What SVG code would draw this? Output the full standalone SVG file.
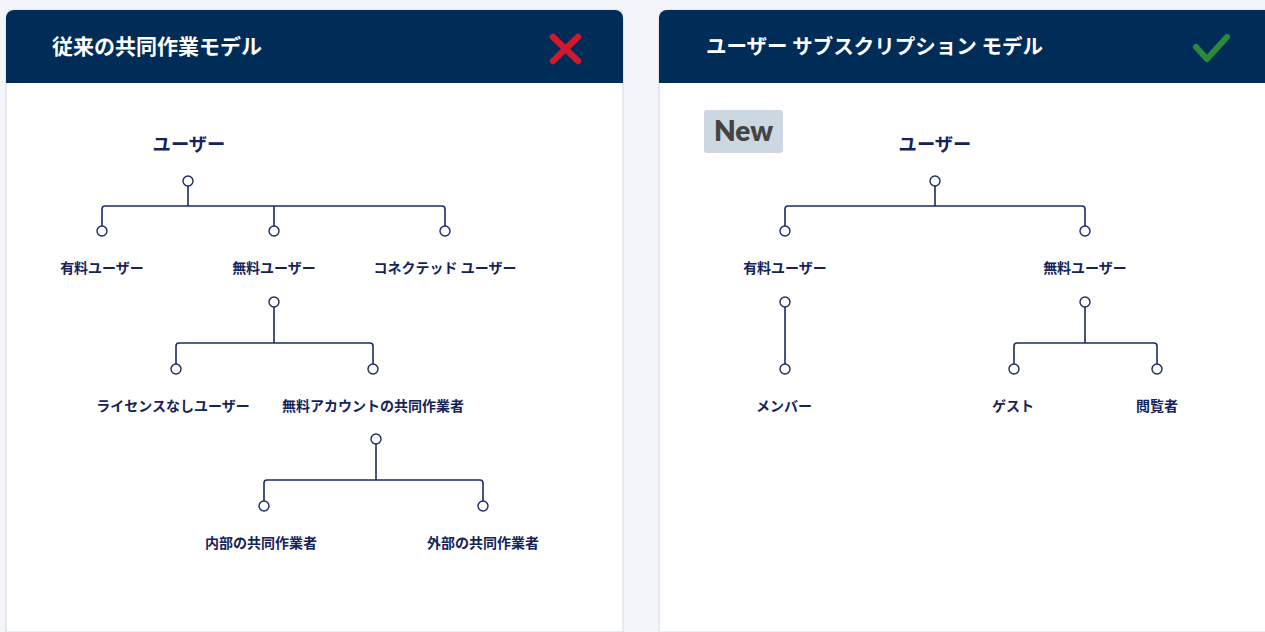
<svg xmlns="http://www.w3.org/2000/svg" width="1265" height="632" viewBox="0 0 1265 632">
<defs>
<style>
.title{font-family:"Noto Sans CJK JP","Noto Sans",sans-serif;font-size:21px;font-weight:700;fill:#ffffff}
.root{font-family:"Noto Sans CJK JP","Noto Sans",sans-serif;font-size:18.3px;font-weight:700;fill:#14245a;text-anchor:middle}
.lbl{font-family:"Noto Sans CJK JP","Noto Sans",sans-serif;font-size:14px;font-weight:700;fill:#14245a;text-anchor:middle}
.ln{fill:none;stroke:#1b2b64;stroke-width:1.6;stroke-linejoin:round}
.dot{fill:#ffffff;stroke:#1b2b64;stroke-width:1.4}
</style>
</defs>
<rect x="0" y="0" width="1265" height="632" fill="#f4f5fa"/>
<g id="card-left">
<path d="M6,632 V18 a8,8 0 0 1 8,-8 H615 a8,8 0 0 1 8,8 V632 Z" fill="#ffffff" stroke="#d5d8e6" stroke-width="1"/>
<path d="M6,83 V18 a8,8 0 0 1 8,-8 H615 a8,8 0 0 1 8,8 V83 Z" fill="#002d57"/>
<text class="title" x="52" y="54" font-size="21.4">従来の共同作業モデル</text>
<path d="M553,37 L578,61 M578,37 L553,61" stroke="#d0192a" stroke-width="6.5" stroke-linecap="round"/>
</g>
<g id="card-right">
<path d="M659,632 V18 a8,8 0 0 1 8,-8 H1275 V632 Z" fill="#ffffff" stroke="#d5d8e6" stroke-width="1"/>
<path d="M659,83 V18 a8,8 0 0 1 8,-8 H1275 V83 Z" fill="#002d57"/>
<text class="title" x="706" y="54" style="font-size:20.5px">ユーザー サブスクリプション モデル</text>
<path d="M1196,47 L1207,59 L1227,37" fill="none" stroke="#2a8a3a" stroke-width="6" stroke-linecap="round" stroke-linejoin="round"/>
<rect x="704" y="110" width="79" height="43" rx="3" fill="#cdd7e1"/>
<text x="714" y="141" font-family="Lato, 'Noto Sans', sans-serif" font-size="28" font-weight="800" fill="#444444">New</text>
</g>
<g id="connectors">
<path class="ln" d="M188,186 V206 M102,226 V209 a3,3 0 0 1 3,-3 H442 a3,3 0 0 1 3,3 V226 M274,206 V226"/>
<path class="ln" d="M274,307 V343 M176,364 V346 a3,3 0 0 1 3,-3 H370 a3,3 0 0 1 3,3 V364"/>
<path class="ln" d="M376,444 V480 M264,501 V483 a3,3 0 0 1 3,-3 H480 a3,3 0 0 1 3,3 V501"/>
<path class="ln" d="M935,186 V206 M785,226 V209 a3,3 0 0 1 3,-3 H1082 a3,3 0 0 1 3,3 V226"/>
<path class="ln" d="M785,307 V364"/>
<path class="ln" d="M1085,307 V343 M1014,364 V346 a3,3 0 0 1 3,-3 H1154 a3,3 0 0 1 3,3 V364"/>
</g>
<g id="node-left-user"><text class="root" x="189" y="151">ユーザー</text><circle class="dot" cx="188" cy="181" r="5"/></g>
<g id="node-left-paid"><circle class="dot" cx="102" cy="231" r="5"/><text class="lbl" x="102" y="273">有料ユーザー</text></g>
<g id="node-left-free"><circle class="dot" cx="274" cy="231" r="5"/><text class="lbl" x="274" y="273">無料ユーザー</text><circle class="dot" cx="274" cy="302" r="5"/></g>
<g id="node-left-connected"><circle class="dot" cx="445" cy="231" r="5"/><text class="lbl" x="445" y="273">コネクテッド ユーザー</text></g>
<g id="node-left-unlicensed"><circle class="dot" cx="176" cy="369" r="5"/><text class="lbl" x="173" y="411">ライセンスなしユーザー</text></g>
<g id="node-left-freecollab"><circle class="dot" cx="373" cy="369" r="5"/><text class="lbl" x="373" y="411">無料アカウントの共同作業者</text><circle class="dot" cx="376" cy="439" r="5"/></g>
<g id="node-left-internal"><circle class="dot" cx="264" cy="506" r="5"/><text class="lbl" x="261" y="548">内部の共同作業者</text></g>
<g id="node-left-external"><circle class="dot" cx="483" cy="506" r="5"/><text class="lbl" x="483" y="548">外部の共同作業者</text></g>
<g id="node-right-user"><text class="root" x="935" y="151">ユーザー</text><circle class="dot" cx="935" cy="181" r="5"/></g>
<g id="node-right-paid"><circle class="dot" cx="785" cy="231" r="5"/><text class="lbl" x="785" y="273">有料ユーザー</text><circle class="dot" cx="785" cy="302" r="5"/></g>
<g id="node-right-free"><circle class="dot" cx="1085" cy="231" r="5"/><text class="lbl" x="1085" y="273">無料ユーザー</text><circle class="dot" cx="1085" cy="302" r="5"/></g>
<g id="node-right-member"><circle class="dot" cx="785" cy="369" r="5"/><text class="lbl" x="784" y="411">メンバー</text></g>
<g id="node-right-guest"><circle class="dot" cx="1014" cy="369" r="5"/><text class="lbl" x="1013" y="411">ゲスト</text></g>
<g id="node-right-viewer"><circle class="dot" cx="1157" cy="369" r="5"/><text class="lbl" x="1157" y="411">閲覧者</text></g>
</svg>
